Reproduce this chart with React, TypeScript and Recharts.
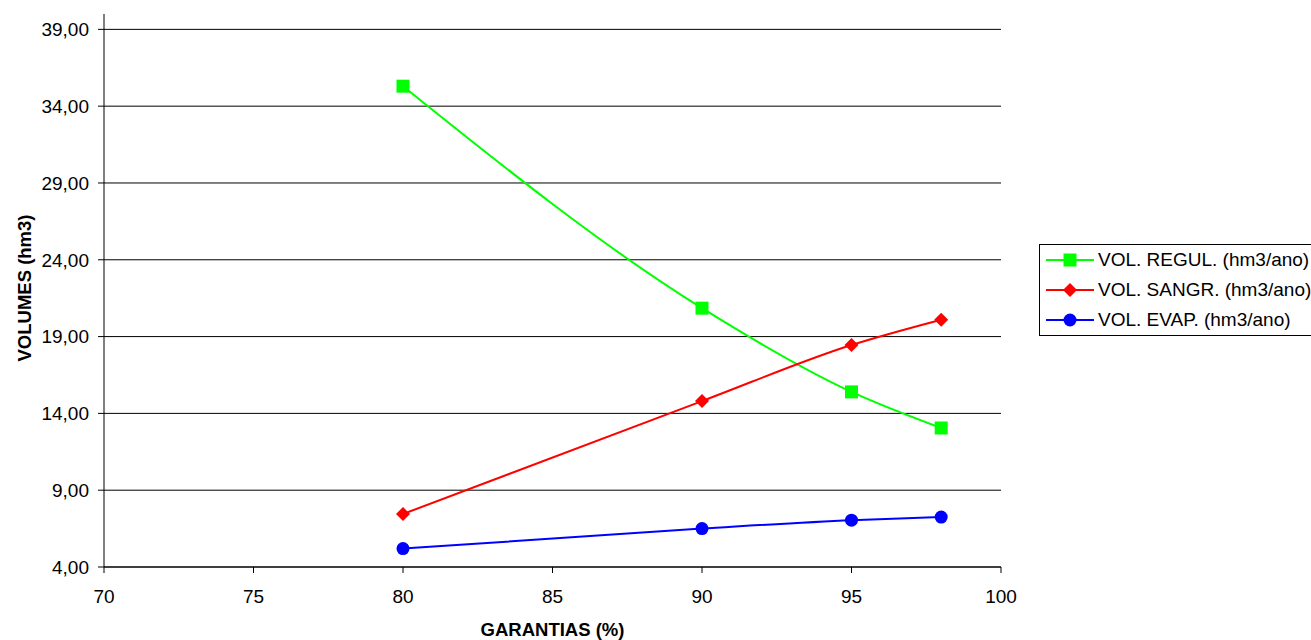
import { LineChart, Line, XAxis, YAxis, ReferenceLine, Label } from "recharts"

const garantias = [80, 90, 95, 98]
const volRegul = [35.3, 20.85, 15.4, 13.05]
const volSangr = [7.45, 14.8, 18.45, 20.1]
const volEvap = [5.2, 6.5, 7.05, 7.25]
const xTicks = [70, 75, 80, 85, 90, 95, 100]
const yTicks = [4, 9, 14, 19, 24, 29, 34, 39]

const series = [
  { key: "regul", name: "VOL. REGUL. (hm3/ano)", color: "#00ff00", shape: "square" },
  { key: "sangr", name: "VOL. SANGR. (hm3/ano)", color: "#ff0000", shape: "diamond" },
  { key: "evap", name: "VOL. EVAP. (hm3/ano)", color: "#0000ff", shape: "circle" },
]

const data = garantias.map((g, i) => ({
  g,
  regul: volRegul[i],
  sangr: volSangr[i],
  evap: volEvap[i],
}))

const font = "Liberation Sans, Arial, sans-serif"
const fmt = (v: number) => v.toFixed(2).replace(".", ",")

const Marker = ({ cx, cy, shape, color }: any) => {
  if (cx == null || cy == null) return null
  if (shape === "square") return <rect x={cx - 6.5} y={cy - 6.5} width={13} height={13} fill={color} />
  if (shape === "diamond")
    return <polygon points={`${cx},${cy - 7} ${cx + 7},${cy} ${cx},${cy + 7} ${cx - 7},${cy}`} fill={color} />
  return <circle cx={cx} cy={cy} r={6.5} fill={color} />
}

const LegendBox = () => (
  <div
    style={{
      position: "absolute",
      left: 1039,
      top: 244,
      width: 300,
      border: "1px solid #000",
      background: "#fff",
      paddingLeft: 6,
      fontFamily: font,
      fontSize: 19,
      color: "#000",
    }}
  >
    {series.map((s) => (
      <div key={s.key} style={{ display: "flex", alignItems: "center", height: 30, whiteSpace: "nowrap" }}>
        <svg width={48} height={20} style={{ flex: "none" }}>
          <line x1={0} y1={10} x2={48} y2={10} stroke={s.color} strokeWidth={2} />
          <Marker cx={24} cy={10} shape={s.shape} color={s.color} />
        </svg>
        <span style={{ marginLeft: 4 }}>{s.name}</span>
      </div>
    ))}
  </div>
)

export default function App() {
  return (
    <div style={{ position: "absolute", left: 0, top: 0, width: 1311, height: 640, overflow: "hidden", background: "#fff" }}>
      <LineChart
        width={1311}
        height={640}
        data={data}
        margin={{ top: 14, right: 310, bottom: 0, left: 0 }}
        style={{ fontFamily: font }}
      >
        <XAxis
          dataKey="g"
          type="number"
          domain={[70, 100]}
          ticks={xTicks}
          stroke="#000"
          tickSize={6}
          tickMargin={17}
          tick={{ fill: "#000", fontSize: 19 }}
          height={73}
        >
          <Label
            content={({ viewBox }: any) => (
              <text
                x={viewBox.x + viewBox.width / 2}
                y={636}
                textAnchor="middle"
                fontWeight="bold"
                fontSize={18.5}
                fill="#000"
                fontFamily={font}
              >
                GARANTIAS (%)
              </text>
            )}
          />
        </XAxis>
        <YAxis
          type="number"
          domain={[4, 40]}
          ticks={yTicks}
          interval={0}
          stroke="#000"
          tickSize={6}
          tickMargin={9}
          tickFormatter={fmt}
          tick={{ fill: "#000", fontSize: 19 }}
          width={104}
        >
          <Label
            content={() => (
              <text
                x={31}
                y={288}
                transform="rotate(-90 31 288)"
                textAnchor="middle"
                fontWeight="bold"
                fontSize={18.5}
                fill="#000"
                fontFamily={font}
              >
                VOLUMES (hm3)
              </text>
            )}
          />
        </YAxis>
        {yTicks.map((t) => (
          <ReferenceLine key={t} y={t} stroke="#000" strokeWidth={1} />
        ))}
        {series.map((s) => (
          <Line
            key={s.key}
            dataKey={s.key}
            name={s.name}
            type="monotone"
            stroke={s.color}
            strokeWidth={2}
            dot={(p: any) => <Marker key={`${s.key}-${p.index}`} cx={p.cx} cy={p.cy} shape={s.shape} color={s.color} />}
            activeDot={false}
            isAnimationActive={false}
          />
        ))}
      </LineChart>
      <LegendBox />
    </div>
  )
}
